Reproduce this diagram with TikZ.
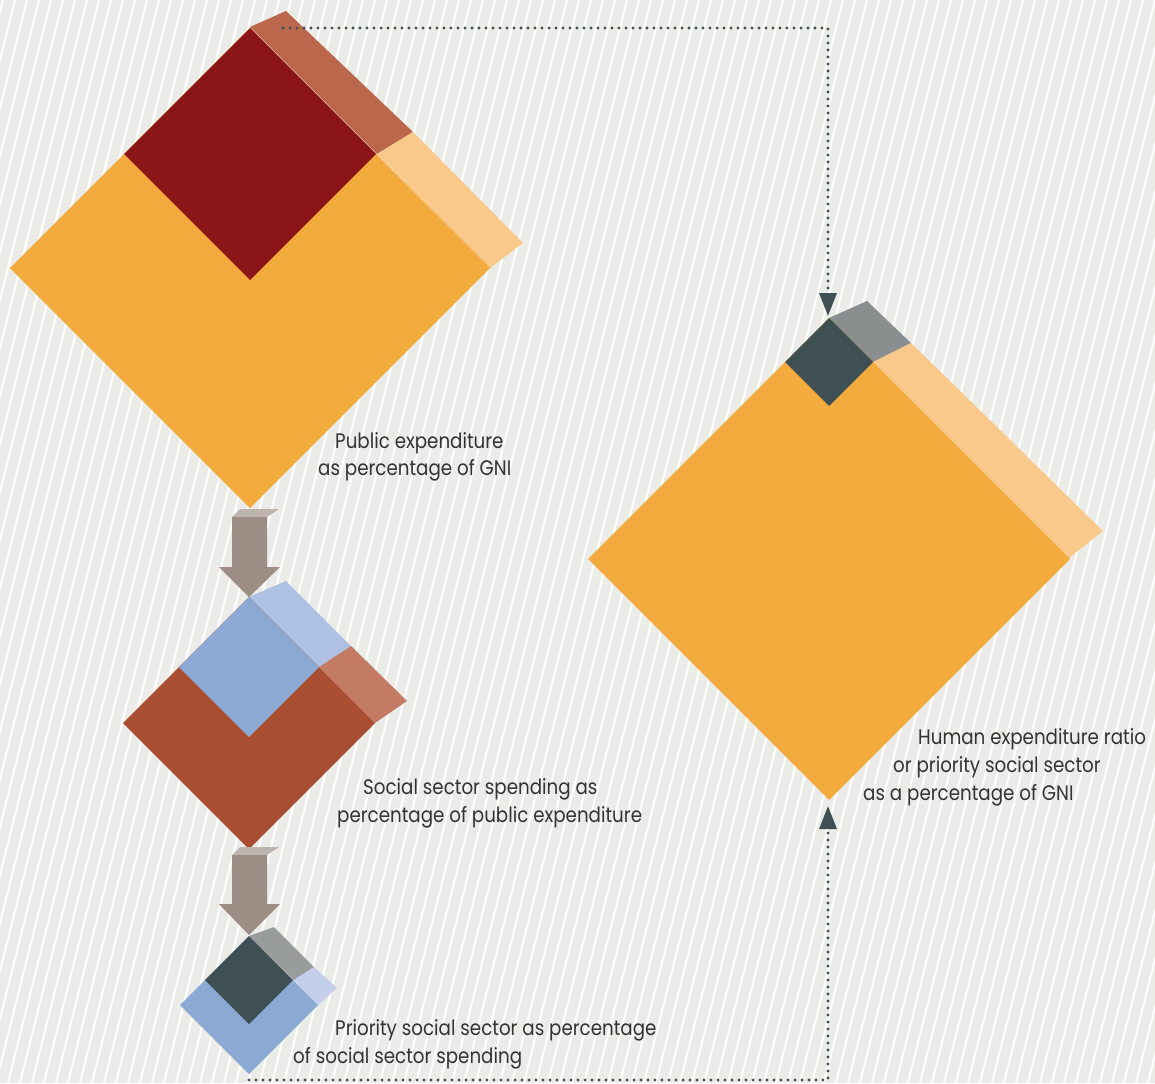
\documentclass[tikz,border=0pt]{standalone}
\usepackage{fontspec}
\setmainfont{Poppins}[FakeStretch=0.87]
\usetikzlibrary{arrows.meta}
\definecolor{paper}{HTML}{EBEBE7}
\definecolor{slate}{HTML}{3E5053}
\definecolor{txt}{HTML}{333333}
\definecolor{deepred}{HTML}{8B1519}
\definecolor{redside}{HTML}{BA674B}
\definecolor{amber}{HTML}{F4AB3E}
\definecolor{amberside}{HTML}{F8C98A}
\definecolor{rust}{HTML}{AA4E32}
\definecolor{rustside}{HTML}{C47B63}
\definecolor{sky}{HTML}{8CA9D4}
\definecolor{skyside}{HTML}{AEC1E2}
\definecolor{paleside}{HTML}{C3CEEA}
\definecolor{greyside}{HTML}{8A8E8E}
\definecolor{lightgreyside}{HTML}{989C9C}
\definecolor{taupe}{HTML}{9C8D85}
\definecolor{taupetop}{HTML}{BDB4AE}
\tikzset{
    stripe/.style={white, line width=2pt},
    dotline/.style={slate, line width=3.3pt, line cap=round, dash pattern=on 0pt off 7pt,
        -{Triangle[length=23pt,width=17pt]}},
    caption/.style={text=txt, anchor=base west, inner sep=0pt, font=\fontsize{21}{24}\selectfont},
}

\begin{document}
\begin{tikzpicture}[x=1pt,y=-1pt]
\useasboundingbox (0,0) rectangle (1155,1083);
\fill[paper] (0,0) rectangle (1155,1083);
\begin{scope}
\clip (0,0) rectangle (1155,1083);
\foreach \x in {-280,-268,...,1160}
    \draw[stripe] (\x,1083) -- ++(271,-1083);
\end{scope}

% public expenditure
\fill[redside] (250,27) -- (286,11) -- (413,132) -- (377,154) -- cycle;
\fill[amberside] (377,154) -- (413,132) -- (523,243) -- (490,268) -- cycle;
\fill[amber] (250,28) -- (490,268) -- (250,508) -- (10,268) -- cycle;
\fill[deepred] (250,28) -- (376,154) -- (250,280) -- (124,154) -- cycle;

% arrow 1
\fill[taupetop] (232,517) -- (240,509) -- (279,509) -- (267,517) -- cycle;
\fill[taupe] (232,517) -- (267,517) -- (267,567) -- (280,567) -- (249,597) -- (219,567) -- (232,567) -- cycle;

% social sector
\fill[skyside] (249,597) -- (286,581) -- (351,646) -- (319,667) -- cycle;
\fill[rustside] (319,667) -- (351,646) -- (407,701) -- (375,723) -- cycle;
\fill[rust] (249,597) -- (375,723) -- (249,849) -- (123,723) -- cycle;
\fill[sky] (249,597) -- (319,667) -- (249,737) -- (179,667) -- cycle;

% arrow 2
\fill[taupetop] (232,855) -- (240,847) -- (279,847) -- (267,855) -- cycle;
\fill[taupe] (232,855) -- (267,855) -- (267,904) -- (280,904) -- (249,935) -- (219,904) -- (232,904) -- cycle;

% priority
\fill[lightgreyside] (249,936) -- (274,927) -- (314,967) -- (294,980) -- cycle;
\fill[paleside] (294,980) -- (314,967) -- (337,988) -- (318,1005) -- cycle;
\fill[sky] (249,936) -- (318,1005) -- (249,1074) -- (180,1005) -- cycle;
\fill[slate] (249,936) -- (293,980) -- (249,1024) -- (205,980) -- cycle;

% human expenditure ratio
\fill[greyside] (829,318) -- (867,301) -- (911,343) -- (873,362) -- cycle;
\fill[amberside] (873,362) -- (911,343) -- (1103,531) -- (1069,558) -- cycle;
\fill[amber] (829,318) -- (1070,559) -- (829,800) -- (588,559) -- cycle;
\fill[slate] (829,318) -- (873,362) -- (829,406) -- (785,362) -- cycle;

\coordinate (pubout) at (283,28);
\coordinate (herin) at (828,316);
\coordinate (priout) at (249,1080);
\coordinate (herbot) at (828,806);
\draw[dotline] (pubout) -| (herin);
\draw[dotline] (priout) -| (herbot);

\node[caption] (pubA) at (335,448) {Public expenditure};
\node[caption] (pubB) at (318,475) {as percentage of GNI};
\node[caption] (socA) at (363,794) {Social sector spending as};
\node[caption] (socB) at (337,822) {percentage of public expenditure};
\node[caption] (priA) at (335,1035) {Priority social sector as percentage};
\node[caption] (priB) at (293,1063) {of social sector spending};
\node[caption] (herA) at (918,744) {Human expenditure ratio};
\node[caption] (herB) at (893,772) {or priority social sector};
\node[caption] (herC) at (863,800) {as a percentage of GNI};
\end{tikzpicture}
\end{document}
